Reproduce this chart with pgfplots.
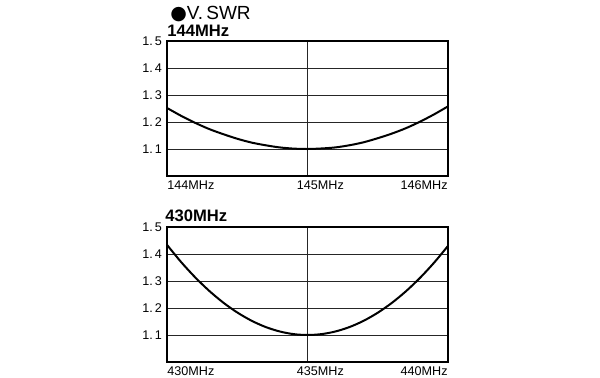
\documentclass[border=0pt]{standalone}
\usepackage{pgfplots}
\pgfplotsset{compat=1.18}
\usepackage{fontspec}
\setmainfont{Liberation Sans}
\newfontfamily\dejavu{DejaVu Sans}
\pgfplotsset{
  swr/.style={
    scale only axis, width=140.5pt, height=67.5pt,
    ymin=1, ymax=1.5,
    ytick={1.1,1.2,1.3,1.4,1.5},
    yticklabels={1.\,1,1.\,2,1.\,3,1.\,4,1.\,5},
    yticklabel style={font=\fontsize{6.3}{7}\selectfont, xshift=1pt},
    ymajorgrids, xmajorgrids,
    major grid style={black!85, line width=0.5pt},
    axis line style={black, line width=0.75pt},
    major tick length=0pt,
    xticklabels={},
    clip=false,
  }
}
\begin{document}
\begin{tikzpicture}
\path[use as bounding box] (0,0) rectangle (300pt,188.5pt);
\begin{axis}[swr, at={(83.5pt,100.5pt)}, anchor=south west,
  xmin=144, xmax=146, xtick={145}]
\addplot[black, line width=1pt, smooth] coordinates {
(144.0,1.252) (144.1,1.223) (144.2,1.197) (144.3,1.174) (144.4,1.155)
(144.5,1.138) (144.6,1.124) (144.7,1.114) (144.8,1.106) (144.9,1.1015)
(145.0,1.100) (145.1,1.102) (145.2,1.106) (145.3,1.114) (145.4,1.125)
(145.5,1.140) (145.6,1.157) (145.7,1.177) (145.8,1.201) (145.9,1.228)
(146.0,1.258)};
\node[anchor=north west, inner sep=0pt, font=\fontsize{6.3}{7}\selectfont] at (axis cs:144,1) [yshift=-2pt] {144MHz};
\node[anchor=north west, inner sep=0pt, font=\fontsize{6.3}{7}\selectfont] at (axis cs:145,1) [yshift=-2pt, xshift=-5.5pt] {145MHz};
\node[anchor=north east, inner sep=0pt, font=\fontsize{6.3}{7}\selectfont] at (axis cs:146,1) [yshift=-2pt] {146MHz};
\end{axis}
\begin{axis}[swr, at={(83.5pt,7.5pt)}, anchor=south west,
  xmin=430, xmax=440, xtick={435}]
\addplot[black, line width=1pt, smooth] coordinates {
(430.0,1.434) (430.5,1.3705) (431.0,1.3138) (431.5,1.2637) (432.0,1.2202)
(432.5,1.1835) (433.0,1.1534) (433.5,1.130) (434.0,1.1134) (434.5,1.1033)
(435.0,1.100) (435.5,1.1033) (436.0,1.1132) (436.5,1.1297) (437.0,1.1528)
(437.5,1.1825) (438.0,1.2188) (438.5,1.2617) (439.0,1.3112) (439.5,1.3673)
(440.0,1.430)};
\node[anchor=north west, inner sep=0pt, font=\fontsize{6.3}{7}\selectfont] at (axis cs:430,1) [yshift=-2pt] {430MHz};
\node[anchor=north west, inner sep=0pt, font=\fontsize{6.3}{7}\selectfont] at (axis cs:435,1) [yshift=-2pt, xshift=-5.5pt] {435MHz};
\node[anchor=north east, inner sep=0pt, font=\fontsize{6.3}{7}\selectfont] at (axis cs:440,1) [yshift=-2pt] {440MHz};
\end{axis}
\node[anchor=base west, inner sep=0pt, font=\fontsize{9.5}{11}\selectfont] at (85pt,179pt) {{\dejavu ●}V.\,SWR};
\node[anchor=base west, inner sep=0pt, font=\fontsize{8.3}{10}\selectfont\bfseries] at (83.5pt,170.5pt) {144MHz};
\node[anchor=base west, inner sep=0pt, font=\fontsize{8.3}{10}\selectfont\bfseries] at (82.5pt,78pt) {430MHz};
\end{tikzpicture}
\end{document}
